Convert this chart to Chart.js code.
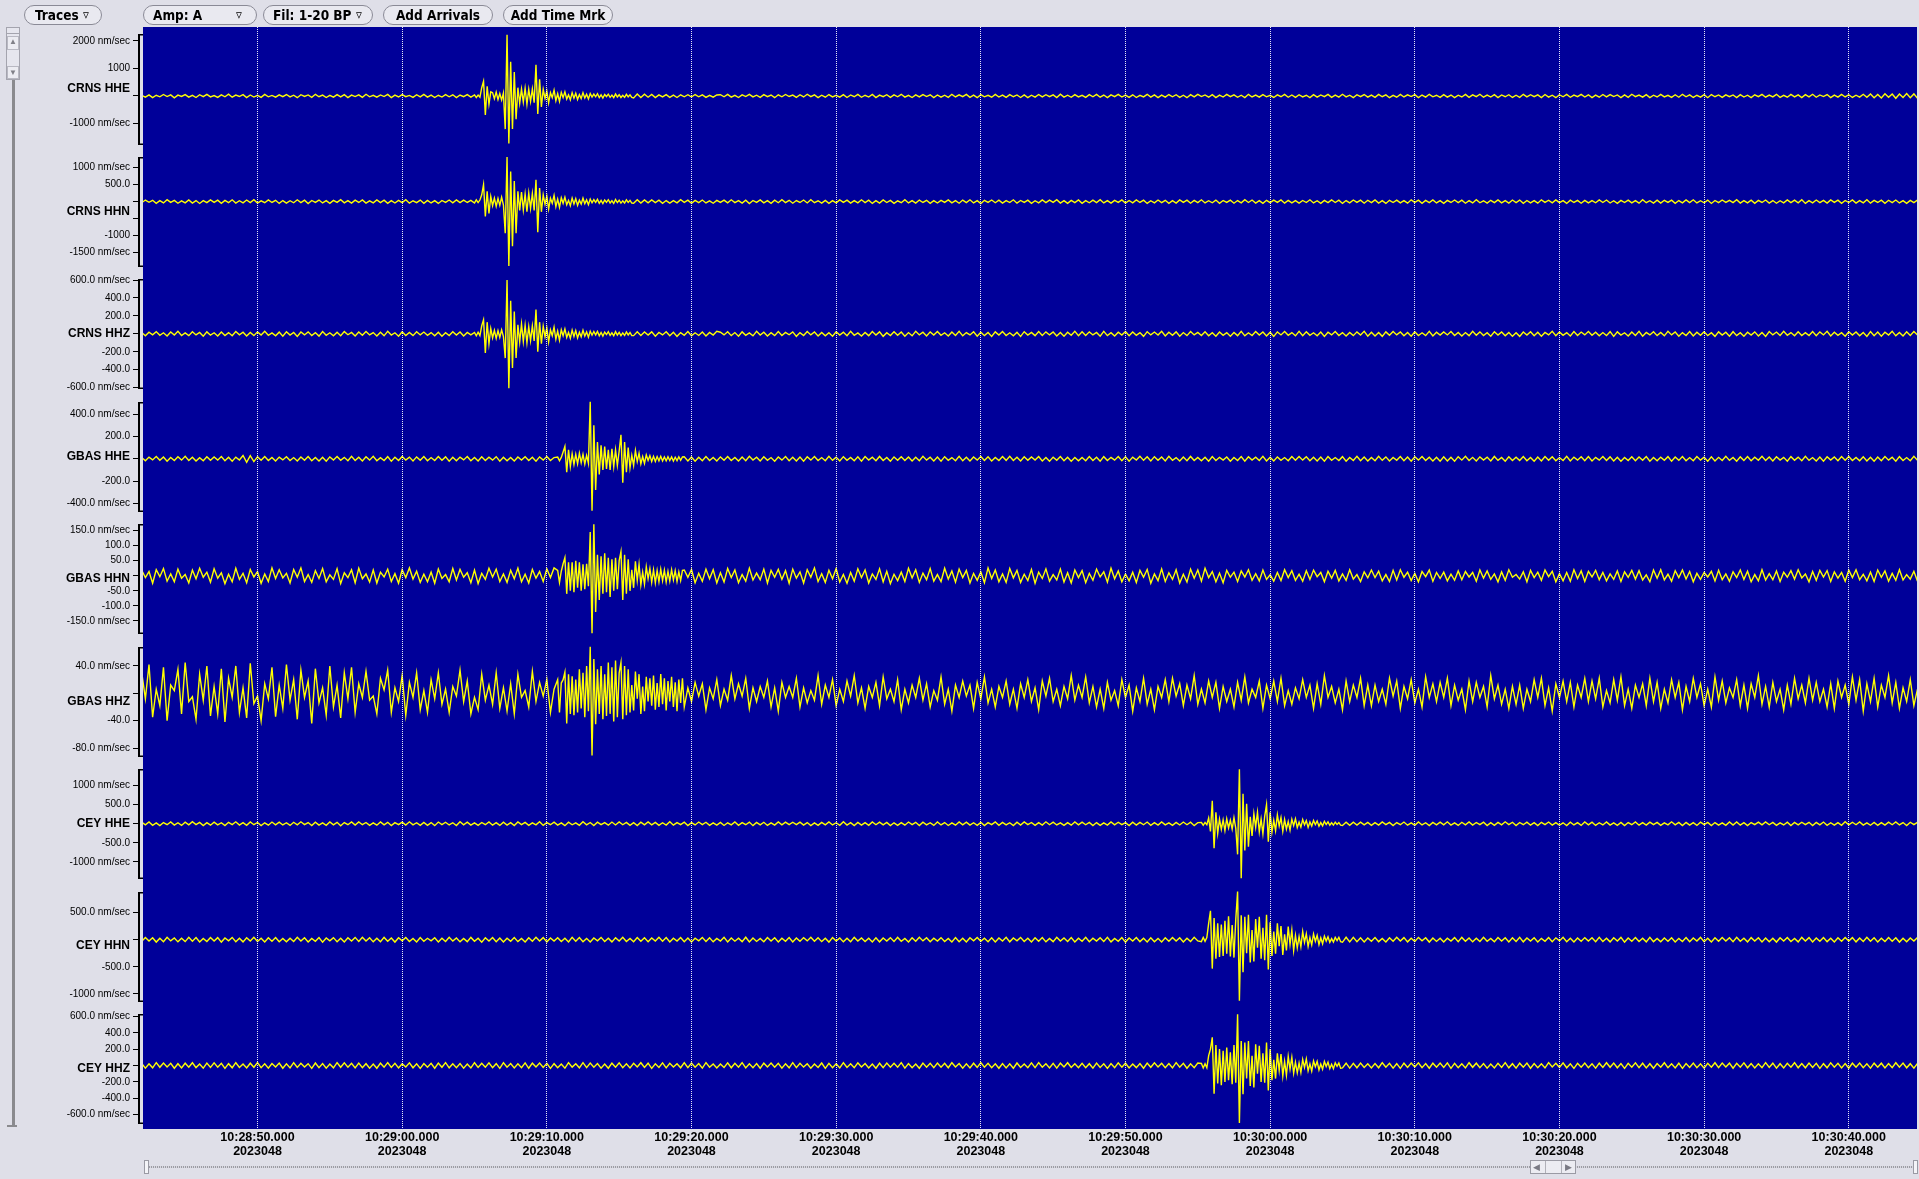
<!DOCTYPE html>
<html>
<head>
<meta charset="utf-8">
<script src="https://cdn.jsdelivr.net/npm/chart.js"></script>
<style>
  html,body{margin:0;padding:0;}
  body{width:1919px;height:1179px;overflow:hidden;position:relative;background:#dfdfe8;}
  #c{position:absolute;left:0;top:0;z-index:0;}
  .btn{position:absolute;top:5px;height:18px;border:1px solid #8a8a96;border-radius:10px;background:#e9e9f0;
       font:bold 13.5px 'DejaVu Sans Condensed','DejaVu Sans',sans-serif;line-height:18px;color:#000;z-index:2;white-space:nowrap;}
  .btn .t{position:absolute;top:0;}
  .btn .a{position:absolute;top:0;font-weight:normal;font-size:13px;}
  .ui{position:absolute;z-index:2;box-sizing:border-box;}
</style>
</head>
<body>
<canvas id="c" width="1919" height="1179"></canvas>

<div class="btn" style="left:24px;width:76px;"><span class="t" style="left:10px;">Traces</span><span class="a" style="left:58px;">&#9663;</span></div>
<div class="btn" style="left:143px;width:112px;"><span class="t" style="left:9px;">Amp: A</span><span class="a" style="left:92px;">&#9663;</span></div>
<div class="btn" style="left:263px;width:108px;"><span class="t" style="left:9px;">Fil: 1-20 BP</span><span class="a" style="left:92px;">&#9663;</span></div>
<div class="btn" style="left:383px;width:108px;text-align:center;">Add Arrivals</div>
<div class="btn" style="left:503px;width:108px;text-align:center;">Add Time Mrk</div>

<!-- left vertical scroll control -->
<div class="ui" style="left:6px;top:27px;width:14px;height:53px;border:1px solid #a4a4ae;background:#e6e6ee;"></div>
<div class="ui" style="left:7px;top:33px;width:12px;height:1px;background:#a4a4ae;"></div>
<div class="ui" style="left:7px;top:36px;width:12px;height:14px;border:1px solid #b8b8c2;background:#ececf2;color:#808088;font-size:8px;line-height:9px;text-align:center;">&#9650;</div>
<div class="ui" style="left:7px;top:66px;width:12px;height:13px;border:1px solid #b8b8c2;background:#ececf2;color:#808088;font-size:8px;line-height:11px;text-align:center;">&#9660;</div>
<div class="ui" style="left:12px;top:80px;width:3px;height:1047px;background:#8a8a8e;"></div>
<div class="ui" style="left:7px;top:1125px;width:10px;height:2px;background:#8a8a8e;"></div>

<!-- bottom horizontal scroll control -->
<div class="ui" style="left:144px;top:1160px;width:5px;height:14px;border:1px solid #9a9aa4;background:#f4f4f8;"></div>
<div class="ui" style="left:149px;top:1166px;width:1764px;height:2px;background:repeating-linear-gradient(90deg,#9c9ca4 0 1px,#d8d8e0 1px 2px);"></div>
<div class="ui" style="left:1530px;top:1160px;width:46px;height:14px;border:1px solid #9a9aa4;background:#ececf2;"></div>
<div class="ui" style="left:1545px;top:1161px;width:1px;height:12px;background:#b0b0b8;"></div>
<div class="ui" style="left:1561px;top:1161px;width:1px;height:12px;background:#b0b0b8;"></div>
<div class="ui" style="left:1533px;top:1160px;width:10px;height:14px;color:#7a7a84;font-size:9px;line-height:14px;">&#9664;</div>
<div class="ui" style="left:1565px;top:1160px;width:10px;height:14px;color:#7a7a84;font-size:9px;line-height:14px;">&#9654;</div>
<div class="ui" style="left:1913px;top:1160px;width:5px;height:14px;border:1px solid #9a9aa4;background:#f4f4f8;"></div>

<script>
// ---------------- DATA ----------------
const traceNames = ['CRNS HHE','CRNS HHN','CRNS HHZ','GBAS HHE','GBAS HHN','GBAS HHZ','CEY HHE','CEY HHN','CEY HHZ'];
const traceStart = 42.0;       // seconds after 10:28:00 (first sample)
const sampleInterval = 0.25;   // seconds per sample (overview samples)

const crnsHHE = [
20,-45,38,-60,25,-30,55,-20,40,-65,30,-15,50,-40,22,-55,45,-25,60,-35,
15,-50,42,-28,65,-45,30,-20,48,-60,35,-38,25,-52,58,-30,20,-44,40,-25,
52,-35,28,-62,45,-18,36,-48,60,-27,33,-55,24,-40,50,-32,46,-58,30,-22,
40,-50,62,-30,25,-45,38,-20,55,-60,32,-36,48,-26,20,-50,44,-34,58,-42,
30,-55,26,-38,50,-28,42,-60,35,-25,48,-40,30,-52,530,-690,400,-200,140,-90,
-1200,2220,-1720,1240,-840,870,-300,260,-280,1130,-650,300,-260,240,-220,200,-190,170,-160,150,
-180,160,-200,150,-140,120,-110,130,-100,90,-120,85,-70,95,-80,60,-75,70,-55,65,
-45,55,-60,40,-35,50,-48,30,-55,42,-28,45,-38,52,-30,40,-50,25,-42,35,
45,-30,58,-40,25,-55,38,-22,60,-35,28,-48,50,-26,35,-62,42,-30,55,-20,
30,-50,44,-36,62,-25,40,-58,28,-45,52,-32,22,-40,48,-55,36,-28,58,-46,
26,-38,55,-60,32,-24,46,-50,38,-30,60,-42,25,-56,40,-34,50,-22,44,-58,
35,-45,28,-52,60,-36,42,-26,55,-48,30,-62,46,-30,24,-44,58,-38,32,-50,
48,-28,36,-55,40,-60,26,-42,52,-34,45,-25,38,-58,62,-40,28,-46,50,-32,
22,-52,46,-30,58,-44,34,-60,40,-26,55,-38,30,-48,42,-56,25,-35,60,-42,
38,-58,30,-40,52,-28,44,-50,26,-62,48,-34,56,-22,36,-45,50,-60,32,-38,
55,-25,42,-48,28,-56,60,-36,34,-44,46,-30,22,-54,40,-28,58,-46,36,-52,
44,-36,26,-60,50,-42,38,-24,56,-48,30,-40,62,-34,28,-58,45,-26,52,-44,
32,-50,58,-28,40,-62,24,-46,54,-36,42,-22,50,-56,34,-40,60,-30,26,-48,
50,-42,34,-58,28,-36,56,-52,40,-24,62,-44,30,-38,48,-60,36,-28,44,-54,
26,-48,60,-34,46,-26,38,-56,52,-40,28,-62,44,-30,56,-46,32,-24,58,-38,
42,-60,30,-44,54,-32,48,-22,36,-58,40,-50,62,-26,34,-42,50,-56,28,-36,
58,-34,24,-52,44,-46,60,-30,38,-54,26,-40,48,-62,52,-28,36,-48,42,-24,
36,-56,50,-38,28,-60,42,-26,56,-44,34,-32,60,-50,24,-46,54,-34,40,-58,
48,-30,62,-46,38,-22,52,-60,30,-42,56,-36,44,-54,28,-40,60,-48,70,-62,
55,-75,80,-50,68,-85,72,-58,90,-66,75,-80
];

const crnsHHN = [
-30,45,-20,38,-52,28,-40,55,-25,35,-48,22,-36,50,-44,30,-55,26,-32,48,
-22,40,-50,34,-28,52,-45,24,-38,46,-30,55,-42,20,-34,48,-26,38,-54,30,
-46,25,-35,52,-28,42,-55,32,-24,45,-40,28,-50,36,-22,54,-38,30,-46,40,
-26,50,-44,22,-36,48,-30,40,-52,26,-42,34,-28,55,-46,24,-32,44,-50,36,
-40,28,-54,32,-24,46,-38,50,-30,42,-26,36,-48,30,500,-440,300,-200,120,-100,
-930,1310,-1889,880,-1310,600,-930,300,-260,640,-900,350,-250,200,-180,170,-150,160,-140,130,
-150,120,-130,110,-100,120,-90,80,-100,75,-65,80,-70,55,-60,60,-50,55,-45,50,
-36,48,-28,40,-52,30,-44,26,-38,55,-24,42,-50,34,-30,46,-40,22,-48,36,
-25,44,-38,52,-30,28,-46,40,-55,32,-22,48,-36,26,-50,42,-34,54,-28,38,
-48,30,-26,46,-40,55,-32,24,-44,36,-52,28,-38,50,-24,42,-46,30,-36,52,
-30,40,-54,26,-42,48,-28,36,-50,22,-34,54,-40,30,-46,44,-26,38,-52,28,
-42,34,-24,50,-36,28,-48,44,-30,52,-40,26,-56,38,-22,46,-34,40,-44,30,
-28,52,-46,32,-26,40,-50,24,-38,48,-30,42,-24,55,-44,28,-52,36,-30,46,
-50,26,-34,44,-28,54,-40,30,-46,36,-22,50,-42,32,-36,48,-26,40,-54,24,
-36,46,-30,38,-52,28,-44,50,-24,42,-48,34,-28,52,-40,26,-34,44,-50,32,
-24,40,-48,30,-36,54,-26,46,-42,28,-52,38,-30,44,-22,50,-46,34,-38,26,
-44,32,-28,52,-40,24,-50,36,-30,48,-26,42,-54,30,-36,46,-24,40,-48,38,
-32,50,-42,26,-54,38,-28,44,-36,30,-46,52,-22,40,-50,34,-30,48,-40,28,
-52,36,-26,46,-30,42,-48,28,-40,54,-34,24,-44,38,-28,50,-36,30,-42,46,
-28,44,-50,32,-38,26,-46,52,-24,40,-36,48,-30,28,-54,42,-26,36,-48,34,
-40,30,-34,50,-26,46,-42,24,-52,36,-28,44,-38,30,-46,54,-32,26,-44,40,
-46,38,-24,42,-50,30,-36,48,-28,52,-40,26,-34,44,-54,32,-30,46,-22,38,
-30,54,-44,28,-36,40,-52,34,-26,46,-42,30,-48,24,-38,50,-28,42,-36,52,
-54,26,-38,46,-30,36,-44,50,-24,40,-50,32,-28,48,-42,30,-36,54,-46,34,
-26,42,-50,38,-32,46,-40,28,-52,36,-30,44
];

const crnsHHZ = [
15,-22,18,-10,25,-16,12,-24,20,-14,28,-18,10,-20,24,-12,16,-26,22,-15,
12,-25,20,-18,14,-22,26,-10,18,-24,15,-20,22,-14,28,-16,10,-22,19,-26,
24,-14,16,-28,20,-12,22,-18,14,-25,26,-16,12,-22,18,-20,25,-10,16,-24,
20,-16,26,-12,14,-24,18,-22,28,-14,12,-26,22,-18,16,-20,24,-12,20,-16,
14,-22,18,-26,12,-18,24,-14,20,-24,16,-12,26,-20,157,-213,120,-80,60,-50,
-270,600,-607,370,-380,250,-270,120,-100,270,-200,110,-90,80,-75,70,-65,60,-55,58,
-60,50,-55,45,-40,50,-35,30,-40,28,-25,30,-28,22,-24,25,-20,22,-18,20,
-14,22,-26,16,-12,24,-20,18,-28,14,-16,26,-22,12,-18,20,-24,16,-14,28,
18,-12,24,-20,14,-26,22,-16,10,-22,28,-14,18,-24,12,-20,26,-18,16,-10,
22,-28,14,-18,26,-12,20,-24,16,-22,12,-26,24,-14,18,-20,28,-16,10,-24,
16,-20,26,-14,22,-28,12,-18,24,-16,20,-26,14,-22,28,-12,18,-24,22,-14,
26,-16,12,-24,20,-18,28,-22,14,-12,24,-26,18,-20,16,-28,22,-14,26,-18,
12,-22,18,-28,24,-14,16,-20,26,-18,22,-12,20,-24,14,-26,18,-16,28,-20,
24,-18,22,-12,16,-26,28,-20,12,-24,18,-14,26,-22,20,-16,14,-28,24,-12,
20,-14,28,-24,18,-16,22,-26,14,-20,26,-12,16,-18,24,-22,12,-26,20,-16,
14,-26,16,-20,28,-22,12,-18,26,-14,20,-24,18,-28,22,-12,26,-16,14,-22,
28,-20,24,-16,12,-22,20,-28,18,-12,26,-18,14,-24,16,-20,22,-14,28,-26,
18,-24,14,-28,22,-16,26,-12,20,-22,16,-26,24,-18,12,-20,28,-24,18,-14,
22,-12,26,-18,16,-24,14,-20,28,-16,22,-18,12,-26,24,-14,20,-22,16,-28,
12,-28,20,-14,24,-22,18,-26,16,-12,28,-20,22,-16,14,-24,26,-18,20,-12,
26,-16,18,-22,14,-20,24,-28,22,-14,12,-24,20,-18,28,-26,16,-12,24,-20,
16,-22,28,-12,20,-26,14,-18,26,-24,18,-16,24,-20,12,-28,22,-14,18,-26,
24,-20,12,-26,18,-14,22,-24,16,-28,26,-12,20,-18,28,-16,14,-22,24,-18,
14,-18,26,-20,22,-12,28,-24,18,-16,12,-26,24,-14,20,-22,16,-28,26,-20,
20,-26,18,-14,28,-22,16,-24,22,-18,26,-12
];

const gbasHHE = [
12,-18,15,-10,20,-14,16,-22,11,-15,18,-12,22,-16,14,-20,10,-17,19,-13,
16,-12,20,-18,13,-21,15,-11,30,-32,28,-25,18,-14,20,-16,12,-19,15,-10,
18,-15,11,-20,16,-13,21,-17,12,-19,14,-22,17,-11,20,-14,13,-18,22,-16,
14,-20,18,-12,22,-17,10,-15,19,-21,13,-16,20,-11,15,-19,17,-13,21,-18,
11,-16,20,-14,17,-22,13,-18,15,-10,21,-17,12,-20,18,-15,14,-12,19,-21,
14,-18,12,-20,16,-11,19,-15,13,-22,17,-12,20,-16,11,-18,15,110,-120,80,
-60,45,-50,40,510,-466,300,-280,150,-140,100,-90,215,-215,150,-120,80,-70,60,-50,
45,-40,35,-38,30,-28,25,-22,20,-24,18,-20,16,-22,14,-18,20,-15,12,-19,
17,-13,21,-16,12,-20,15,-18,22,-11,14,-19,18,-14,11,-21,16,-12,20,-17,
13,-19,16,-21,18,-12,20,-15,11,-17,22,-14,15,-20,19,-13,12,-18,17,-22,
20,-11,14,-18,21,-16,12,-22,17,-13,19,-15,16,-20,13,-17,22,-12,14,-19,
15,-21,19,-13,11,-17,22,-18,14,-20,16,-12,21,-15,18,-19,12,-16,20,-14,
22,-16,13,-20,18,-14,17,-11,21,-19,12,-22,15,-13,20,-17,14,-21,11,-18,
12,-17,21,-15,14,-22,19,-16,13,-12,20,-18,17,-21,15,-11,22,-14,18,-20,
19,-14,16,-19,22,-13,11,-20,15,-18,21,-16,12,-17,14,-22,20,-15,13,-11,
16,-22,12,-15,20,-21,18,-12,14,-16,22,-19,13,-20,17,-14,11,-18,21,-13,
21,-12,18,-17,13,-19,15,-22,20,-14,11,-16,19,-21,12,-15,22,-18,16,-20,
11,-18,22,-14,17,-20,12,-13,21,-17,15,-22,18,-12,20,-16,14,-19,13,-21,
18,-20,14,-21,19,-12,22,-16,13,-19,17,-11,15,-20,21,-14,12,-22,18,-15,
14,-15,20,-18,12,-22,16,-19,21,-13,18,-17,11,-16,22,-20,15,-12,19,-18,
20,-19,13,-12,21,-16,17,-20,14,-22,12,-15,19,-18,16,-13,20,-21,11,-17,
15,-13,19,-22,16,-14,21,-17,11,-18,20,-12,14,-21,17,-19,13,-16,22,-14,
12,-21,17,-16,20,-18,14,-13,22,-15,16,-20,18,-11,13,-22,19,-14,15,-17,
22,-14,11,-19,15,-21,18,-12,16,-17,21,-13,20,-16,12,-18,17,-20,14,-22,
16,-18,20,-12,14,-21,19,-15,11,-17,22,-13
];

const gbasHHN = [
18,-6,14,-25,20,-3,24,-18,6,-20,22,-8,4,-24,19,-10,25,-5,12,-21,
23,-8,10,-26,5,-20,25,-12,8,-23,21,-4,14,-25,6,-19,26,-9,20,-7,
8,-24,21,-5,26,-19,4,-22,17,-9,24,-20,3,-12,23,-26,10,-6,20,-23,
25,-10,6,-21,19,-24,12,-4,22,-19,7,-25,20,-6,26,-11,15,-22,5,-20,
12,-25,22,-9,4,-20,24,-14,21,-5,10,-23,19,-26,8,-12,25,-4,22,-19,
6,-22,18,-10,25,-20,5,-24,21,-8,14,-19,23,-6,26,-18,20,60,-60,45,
-50,45,-55,50,171,-191,120,-110,70,-80,60,-50,80,-80,70,-60,45,-40,35,-30,
28,-12,22,-26,6,-18,24,-20,9,-22,19,-5,21,-23,8,-18,22,-10,20,-24,
10,-21,24,-6,19,-23,4,-18,25,-14,9,-13,22,-24,18,-5,21,-12,17,-25,
22,-8,13,-24,20,-5,26,-19,7,-22,18,-10,24,-21,4,-25,11,-18,23,-6,
19,-24,6,-12,23,-20,15,-26,5,-16,12,-19,25,-7,20,-22,9,-13,24,-18,
4,-19,25,-11,16,-21,22,-6,18,-24,8,-15,13,-23,26,-9,19,-20,6,-22,
24,-7,18,-22,5,-16,21,-25,12,-9,23,-18,4,-14,22,-21,10,-24,19,-6,
17,-23,8,-15,22,-4,13,-21,25,-10,16,-20,6,-17,12,-22,18,-5,21,-25,
6,-16,23,-19,10,-12,20,-24,5,-21,22,-8,19,-18,25,-6,14,-20,9,-23,
18,-5,12,-19,16,-4,20,-15,7,-17,19,-12,3,-18,11,-16,20,-6,17,-15,
5,-18,17,-12,19,-3,11,-20,15,-8,18,-17,6,-15,20,-11,4,-19,13,-7,
19,-6,15,-17,4,-19,18,-14,20,-5,12,-16,8,-20,14,-3,19,-18,11,-9,
12,-17,5,-15,16,-13,14,-4,11,-18,19,-8,16,-12,6,-20,13,-15,20,-5,
4,-11,13,-20,18,-6,12,-15,19,-3,15,-20,7,-17,11,-18,20,-9,16,-19,
15,-4,18,-13,11,-17,6,-12,16,-19,13,-5,18,-11,17,-14,3,-20,19,-8,
20,-14,5,-18,17,-6,19,-11,14,-20,8,-12,11,-4,15,-17,18,-13,6,-18,
13,-6,19,-12,15,-20,4,-17,20,-14,7,-13,16,-19,12,-5,17,-11,20,-7,
6,-20,14,-15,18,-4,17,-19,13,-8,11,-18,19,-6,20,-13,5,-17,12,-19,
19,-5,16,-18,8,-15,20,-14,4,-11,15,-18
];

const gbasHHZ = [
30,-8,42,-35,6,-18,38,-40,12,4,35,-30,45,-12,-5,-38,28,-10,40,-33,
10,-30,36,-42,22,-6,40,-28,8,-36,44,-15,-4,-40,14,-8,38,-34,12,-22,
42,-10,20,-38,34,-6,18,-44,36,-14,8,-32,40,-20,12,-36,30,-8,38,-28,
14,-6,32,-10,-4,-30,22,5,34,-28,8,-12,26,-32,16,-6,30,-24,4,-28,
20,-8,30,-16,6,-28,10,-4,34,-12,18,-30,-6,-24,28,-10,12,-16,30,-22,
8,-26,14,-30,28,-6,4,-20,32,-12,16,-4,20,-28,6,-14,25,31,-44,30,
-35,28,-30,40,68,-91,50,-45,35,-30,48,-41,45,-38,30,-28,32,-25,28,-24,
-10,18,-6,24,-20,4,-14,10,-6,26,-20,8,-12,16,-4,14,-24,8,-8,20,
-18,6,-10,26,-8,14,-4,22,-22,8,-12,10,-6,18,-20,8,-26,16,-6,10,
-6,22,-20,8,-14,4,-10,26,-16,12,-6,20,-18,6,-12,18,-4,26,-14,8,
-22,10,-6,16,-18,24,-8,6,-12,20,-24,6,-14,12,-6,22,-10,14,-20,4,
-10,24,-16,6,-26,12,-6,18,-4,12,-22,16,-8,24,-14,6,-20,10,-6,18,
-16,6,-22,14,-6,20,-12,8,-24,18,-4,22,-12,6,-18,10,-8,26,-10,12,
-6,24,-14,10,-20,6,-22,16,-10,4,-18,20,-6,12,-26,8,-12,22,-16,6,
-24,10,-6,20,-12,22,-4,14,-18,12,-8,26,-16,6,-14,18,-6,16,-22,10,
-12,6,-20,16,-10,24,-14,6,-6,18,-22,12,-8,18,-12,22,-18,4,-16,8,
-8,20,-6,12,-22,14,-16,26,-6,10,-14,6,-24,18,-12,12,-6,22,-18,12,
-18,12,-12,6,-16,22,-4,18,-22,10,-8,20,-14,6,-20,24,-6,14,-12,16,
-6,22,-18,12,-10,6,-24,18,-12,16,-6,10,-20,26,-8,12,-16,6,-22,10,
-16,12,-22,6,-12,20,-6,22,-18,8,-26,14,-6,18,-12,16,-20,12,-6,22,
-12,18,-8,22,-20,4,-14,20,-10,24,-18,6,-22,12,-6,14,-18,22,-12,16,
-22,6,-14,20,-6,16,-24,10,-12,22,-6,14,-18,6,-20,24,-10,18,-14,8,
-6,20,-18,12,-22,14,-6,26,-16,10,-20,16,-12,6,-24,12,-16,22,-8,12,
-14,22,-10,16,-12,6,-20,14,-22,18,-6,12,-16,24,-10,20,-26,14,-12,22,
-20,12,-6,26,-14,16,-22,8,-12,20,-18,6
];

const ceyHHE = [
35,-28,45,-40,22,-50,30,-25,48,-36,26,-44,40,-30,52,-22,34,-46,28,-38,
42,-30,25,-48,36,-22,50,-34,28,-42,46,-26,32,-50,24,-38,44,-28,40,-32,
26,-44,38,-30,50,-24,30,-46,42,-34,22,-40,48,-28,36,-52,30,-26,46,-36,
48,-26,32,-42,24,-38,46,-30,36,-50,28,-24,42,-34,50,-28,26,-44,34,-40,
30,-50,44,-24,38,-32,26,-46,50,-28,40,-36,24,-42,32,-26,48,-38,28,-44,
40,-34,28,-48,46,-22,36,-40,24,-30,52,-44,30,-26,42,-36,22,-50,38,-28,
24,-42,50,-30,32,-46,40,-24,28,-38,44,-32,48,-26,34,-40,26,-48,42,-30,
46,-28,36,-44,26,-34,50,-38,30,-24,40,-46,28,-32,44,-22,38,-42,24,-36,
32,-46,24,-30,48,-40,28,-26,42,-50,34,-28,38,-44,22,-36,46,-30,40,-24,
38,-24,42,-36,30,-48,22,-44,36,-28,46,-32,26,-40,50,-34,28,-46,32,-38,
28,-40,46,-26,40,-30,34,-50,24,-42,30,-38,44,-24,36,-48,42,-28,26,-44,
44,-32,30,-46,22,-38,48,-28,40,-34,26,-42,36,-50,28,-24,46,-40,34,-30,
26,-48,38,-34,46,-24,32,-42,28,-36,50,-26,42,-32,24,-44,30,-38,48,-28,
40,-26,34,-50,30,-44,24,-36,46,-30,38,-22,28,-48,42,-34,36,-26,44,-40,
30,-36,48,-28,24,-42,36,-32,44,-26,40,-50,28,-38,46,200,600,-640,200,-150,
120,-180,200,-800,1425,-1423,780,-700,300,-260,230,500,-470,200,-220,180,-170,150,-140,130,
-110,100,-90,85,-80,70,-75,60,-65,55,-50,45,-48,40,-42,38,-35,40,-30,36,
-42,28,-36,46,-24,34,-50,30,-26,44,-38,22,-40,48,-32,26,-46,36,-28,42,
-30,50,-34,24,-44,38,-28,46,-36,32,-22,40,-48,26,-42,34,-30,50,-24,38,
-46,32,-26,42,-38,28,-50,36,-24,44,-34,30,-40,24,-46,38,-32,28,-44,48,
-28,40,-44,26,-32,48,-36,22,-42,34,-50,30,-26,46,-38,28,-34,42,-24,36,
-40,24,-30,50,-28,36,-46,32,-38,26,-44,42,-22,34,-48,30,-36,24,-42,46,
-34,46,-38,28,-50,30,-24,40,-30,48,-26,36,-44,22,-32,42,-46,34,-28,38,
-24,36,-48,34,-30,44,-40,26,-36,30,-42,50,-28,38,-26,46,-34,24,-40,32,
-44,28,-36,42,-26,48,-32,30,-46,38,-24,40
];

const ceyHHN = [
-30,42,-25,36,-44,28,-38,45,-22,32,-40,26,-35,44,-28,38,-42,24,-34,40,
-26,38,-44,30,-22,42,-36,28,-40,34,-24,45,-32,26,-42,36,-28,40,-38,22,
-40,28,-34,44,-26,36,-42,24,-30,40,-45,32,-22,38,-36,28,-44,34,-26,42,
-32,45,-24,34,-40,26,-38,42,-28,30,-44,36,-22,40,-34,24,-42,38,-30,26,
-22,36,-42,28,-34,44,-26,32,-40,24,-36,42,-30,26,-45,34,-24,40,-38,30,
-44,26,-30,40,-36,22,-42,34,-28,45,-24,38,-40,30,-26,36,-34,28,-42,44,
-28,40,-38,24,-44,32,-22,42,-34,28,-40,36,-26,44,-32,22,-38,40,-30,34,
-36,30,-26,44,-30,38,-42,26,-24,40,-36,32,-44,28,-22,42,-34,36,-40,24,
-24,44,-40,32,-28,26,-36,45,-42,30,-32,22,-38,40,-26,34,-44,28,-30,38,
-42,32,-28,38,-22,44,-30,34,-36,26,-44,40,-24,32,-40,28,-36,42,-26,30,
-34,26,-44,36,-40,30,-24,38,-32,42,-28,24,-42,36,-30,44,-22,34,-38,28,
-26,38,-32,24,-42,40,-36,28,-44,34,-22,42,-30,26,-38,36,-40,32,-24,44,
-40,30,-22,42,-34,26,-44,36,-28,38,-40,24,-36,44,-26,30,-32,40,-42,28,
-30,44,-38,28,-26,36,-32,42,-40,24,-30,38,-44,32,-24,40,-36,26,-42,34,
-38,24,-44,34,-30,40,-26,36,-42,28,-34,44,-22,38,-28,-250,533,-533,350,-300,
280,-350,300,886,-1123,450,-600,420,-380,350,-300,460,-550,320,-280,250,-230,200,-180,150,
-130,120,-110,100,-90,80,-85,70,-65,60,-55,50,-48,45,-40,42,-38,35,-40,32,
-28,40,-36,24,-42,34,-30,44,-26,38,-40,28,-34,42,-22,36,-44,30,-32,26,
-44,28,-24,38,-36,42,-28,32,-40,26,-34,44,-30,24,-38,40,-26,36,-42,34,
-32,42,-40,30,-26,36,-44,24,-30,40,-36,34,-22,44,-38,28,-42,32,-28,38,
-26,34,-38,44,-32,28,-40,36,-24,42,-44,30,-28,38,-34,26,-40,44,-36,24,
-40,30,-28,36,-44,24,-34,40,-38,32,-26,42,-36,28,-42,34,-30,40,-24,36,
-36,44,-30,26,-40,38,-24,34,-42,30,-38,28,-44,36,-26,40,-32,24,-40,42,
-24,38,-42,32,-28,40,-36,26,-44,34,-30,42,-26,38,-40,30,-34,44,-28,36,
-42,26,-34,40,-30,36,-44,28,-38,32,-26,42
];

const ceyHHZ = [
25,-32,20,-28,35,-22,30,-18,26,-34,22,-30,28,-20,34,-26,18,-32,30,-24,
32,-20,26,-35,22,-28,34,-24,18,-30,28,-22,35,-26,20,-32,24,-18,30,-34,
20,-30,34,-24,28,-18,22,-35,30,-26,24,-32,18,-28,35,-22,32,-20,26,-30,
30,-26,22,-32,18,-34,28,-20,35,-24,26,-30,22,-18,32,-28,20,-35,24,-22,
26,-34,30,-22,35,-28,20,-26,24,-32,18,-30,34,-24,28,-20,32,-26,22,-35,
34,-22,24,-30,20,-26,32,-34,28,-18,30,-24,26,-35,22,-28,18,-32,35,-20,
22,-28,35,-26,30,-20,24,-32,18,-34,28,-22,32,-26,20,-30,26,-18,34,-24,
28,-35,20,-24,32,-30,26,-18,22,-28,34,-26,30,-20,24,-32,35,-22,18,-30,
18,-24,32,-28,26,-22,35,-30,20,-26,24,-34,28,-18,30,-22,26,-32,20,-28,
35,-26,28,-20,22,-32,18,-24,30,-35,26,-28,20,-30,34,-24,22,-26,32,-18,
24,-30,18,-34,28,-26,30,-22,26,-20,35,-32,24,-28,18,-34,30,-20,28,-26,
30,-22,26,-28,34,-18,24,-32,20,-30,28,-24,35,-22,26,-26,20,-34,24,-30,
20,-34,30,-24,18,-28,32,-26,35,-22,20,-30,26,-32,28,-18,34,-24,22,-28,
26,-28,22,-32,30,-24,20,-35,24,-26,32,-20,28,-30,18,-26,24,-34,30,-22,
32,-18,28,-26,24,-30,35,-22,26,-34,20,-28,30,-24,22,120,345,-345,200,-180,
150,-200,250,625,-704,300,-350,280,-260,230,-220,280,-305,180,-160,140,-130,110,-100,90,
-85,75,-70,60,-55,50,-48,45,-40,38,-35,32,-30,28,-32,26,-28,30,-25,22,
-30,24,-28,34,-20,26,-32,22,-35,28,-24,30,-18,32,-26,24,-34,28,-22,30,
-24,32,-35,26,-28,20,-30,34,-22,28,-26,24,-32,18,-30,26,-24,35,-28,22,
-32,28,-20,30,-34,24,-26,22,-30,35,-18,28,-24,32,-28,20,-35,26,-22,30,
-26,20,-32,28,-24,34,-22,30,-28,24,-35,26,-20,32,-26,28,-30,22,-34,24,
-20,34,-26,22,-30,28,-35,24,-24,30,-28,20,-32,26,-22,34,-26,30,-18,28,
-34,26,-22,32,-28,24,-30,20,-26,35,-24,28,-32,22,-30,26,-20,34,-28,24,
-28,30,-24,26,-35,22,-28,32,-20,26,-30,24,-34,28,-22,30,-26,20,-32,28,
-22,28,-30,24,-26,34,-20,30,-28,22,-32,26
];

// finer samples read around each arrival (0.125 s apart)
const burstInterval = 0.125;
const crnsBurstStart = 65.0, gbasBurstStart = 70.75, ceyBurstStart = 115.25;

const crnsHHEburst = [
40,-55,30,-45, 300,530,-690,350,-300,150,
120,-100,140,-130,90,-150,110,
-1200,2220,-1720,1240,-1200,870,-840,
300,-260,250,-220,280,-300,240,-200,260,-240,
1130,-650,600,-400,
240,-90,180,-250,120,-60,210,-170,80,-200,
130,-60,150,-110,40,-140,120,-80,100,-130,50,-90,120,-70,60,-110,90,-40,
70,-30,80,-60,40,-75,55,-20,65,-50,30,-60,70,-35,45,-55,25,-50,60,-30,40,-55
];
const crnsHHNburst = [
-40,50,-30,45, 200,500,-440,300,-350,150,
-120,100,-140,90,-110,130,-100,
-930,1310,-1889,880,-1310,600,-930,
300,-260,280,-240,220,-300,250,-200,240,-260,
640,-900,400,-300,
200,-80,160,-220,100,-50,180,-150,70,-170,
110,-50,130,-95,35,-120,100,-70,85,-110,40,-75,100,-60,50,-90,75,-35,
60,-25,65,-50,35,-60,45,-20,55,-40,25,-50,60,-30,40,-45,20,-42,50,-25,35,-45
];
const crnsHHZburst = [
15,-22,18,-20, 90,157,-213,130,-110,60,
-45,40,-50,35,-40,45,-30,
-270,600,-607,370,-380,250,-270,
100,-90,110,-85,95,-100,80,-75,90,-80,
270,-200,130,-110,
85,-35,65,-90,45,-20,75,-60,30,-70,
45,-20,55,-40,15,-50,42,-30,36,-46,18,-32,40,-25,22,-38,30,-15,
26,-12,28,-22,15,-26,20,-8,24,-18,12,-22,25,-14,16,-20,10,-18,22,-12,15,-20
];
const gbasHHEburst = [
15,-18,12, 60,110,-120,80,-70,
45,-50,40,-45,50,-35,40,-48,30,-40,
510,-466,300,-280,
150,-140,120,-100,110,-90,80,-100,90,-70,80,-60,70,
215,-215,150,-120,100,
-80,30,-60,75,-25,50,-45,20,-42,35,-15,
28,-25,22,-24,20,-18,22,-20,16,-19,18,-15,17,-20,14,-16,18,-14,16
];
const gbasHHNburst = [
18,-22,15, 40,60,-60,45,-50,
45,-55,50,-40,45,-50,38,-45,40,-35,
145,-191,171,-120,
70,-80,65,-60,75,-55,60,-70,55,-50,60,-45,50,
80,-80,70,-60,55,
-50,20,-40,48,-15,38,-30,12,-28,30,-10,
24,-22,20,-24,18,-20,22,-16,19,-21,15,-18,20,-14,17,-19,13,-16,18
];
const gbasHHZburst = [
20,-28,15, 20,31,-44,28,-30,
25,-32,20,-28,35,-22,30,-35,40,-26,
68,-91,50,-45,
35,-30,40,-38,28,-33,45,-30,38,-41,48,-35,30,
45,-38,40,-32,35,
-28,12,-25,32,-8,28,-30,10,-26,24,-12,
22,-18,26,-24,15,-20,28,-16,22,-25,18,-12,24,-20,16,-26,20,-14,22
];
const ceyHHEburst = [
30,-40,35,-28, 150,-200,600,-640,300,-250,
120,-150,100,-180,130,-110,90,-140,160,-120,
-800,1425,-1423,780,
-700,520,-600,180,-320,260,-90,300,-210,120,-260,200,
500,-470,300,
-220,90,-180,230,-60,160,-200,110,-140,60,-170,120,-50,130,
-100,40,-90,110,-30,80,-95,45,-60,85,-25,70,-65,30,-55,60,-20,50,
-40,25,-35,42,-18,30,-36
];
const ceyHHNburst = [
-35,40,-30,38, 300,533,-533,400,-350,300,
-320,280,-300,350,-260,430,-310,270,-330,380,
886,-1123,450,-600,
420,-250,460,-420,180,-400,380,-150,420,-350,220,-380,
460,-550,320,
-300,150,-260,300,-120,250,-280,100,-200,240,-90,180,-200,80,
-150,60,-130,150,-50,110,-125,40,-95,105,-30,80,-90,35,-75,65,-25,55,
-50,20,-45,42,-15,44,-38
];
const ceyHHZburst = [
25,-30,22,-28, 120,200,345,-345,250,-220,
200,-240,180,-200,220,-180,160,-230,250,-210,
625,-704,300,-350,
280,-160,300,-250,120,-270,260,-100,240,-200,150,-210,
280,-305,200,
-180,70,-160,150,-60,140,-130,50,-120,110,-45,100,-95,40,
-90,30,-85,75,-25,80,-65,20,-70,55,-15,50,-55,18,-45,50,-12,42,
-38,15,-40,32,-10,30,-34
];

// trace extent (the bracket drawn beside each trace), nm/sec
const bracketHi = [2227, 1310, 607, 510, 171, 68.1, 1426, 886, 629];
const bracketLo = [-1722, -1889, -608, -466, -191, -91.2, -1423, -1123, -704];

// amplitude ticks and their labels
const ampTicks = [
  [2000, 1000, 0, -1000],
  [1000, 500, 0, -500, -1000, -1500],
  [600, 400, 200, 0, -200, -400, -600],
  [400, 200, 0, -200, -400],
  [150, 100, 50, 0, -50, -100, -150],
  [40, 0, -40, -80],
  [1000, 500, 0, -500, -1000],
  [500, 0, -500, -1000],
  [600, 400, 200, 0, -200, -400, -600]
];
const ampLabels = [
  ['2000 nm/sec', '1000', '', '-1000 nm/sec'],
  ['1000 nm/sec', '500.0', '', '', '-1000', '-1500 nm/sec'],
  ['600.0 nm/sec', '400.0', '200.0', '', '-200.0', '-400.0', '-600.0 nm/sec'],
  ['400.0 nm/sec', '200.0', '', '-200.0', '-400.0 nm/sec'],
  ['150.0 nm/sec', '100.0', '50.0', '', '-50.0', '-100.0', '-150.0 nm/sec'],
  ['40.0 nm/sec', '', '-40.0', '-80.0 nm/sec'],
  ['1000 nm/sec', '500.0', '', '-500.0', '-1000 nm/sec'],
  ['500.0 nm/sec', '', '-500.0', '-1000 nm/sec'],
  ['600.0 nm/sec', '400.0', '200.0', '', '-200.0', '-400.0', '-600.0 nm/sec']
];

// time axis (seconds after 10:28:00)
const timeTicks = [50, 60, 70, 80, 90, 100, 110, 120, 130, 140, 150, 160];
const timeLabels = ['10:28:50.000','10:29:00.000','10:29:10.000','10:29:20.000','10:29:30.000','10:29:40.000',
                    '10:29:50.000','10:30:00.000','10:30:10.000','10:30:20.000','10:30:30.000','10:30:40.000'];
const dayLabel = '2023048';
const timeMin = 42.085, timeMax = 164.715;

// ---------------- CHART ----------------
const traces = [crnsHHE, crnsHHN, crnsHHZ, gbasHHE, gbasHHN, gbasHHZ, ceyHHE, ceyHHN, ceyHHZ];
const bursts = [crnsHHEburst, crnsHHNburst, crnsHHZburst, gbasHHEburst, gbasHHNburst, gbasHHZburst, ceyHHEburst, ceyHHNburst, ceyHHZburst];
const burstStarts = [crnsBurstStart, crnsBurstStart, crnsBurstStart, gbasBurstStart, gbasBurstStart, gbasBurstStart, ceyBurstStart, ceyBurstStart, ceyBurstStart];

const PLOT_BG = '#000099';
const TRACE = '#ffff00';
const LBL_FONT = "'Liberation Sans', Arial, sans-serif";
const TIME_FONT = "'Liberation Sans', Arial, sans-serif";

function buildPoints(k) {
  const b = bursts[k], b0 = burstStarts[k];
  const b1 = b0 + (b.length - 1) * burstInterval;
  const fine = b.map((v, j) => ({ x: b0 + j * burstInterval, y: v }));
  const coarse = traces[k]
    .map((v, i) => ({ x: traceStart + i * sampleInterval, y: v }))
    .filter(p => p.x < b0 - 1e-9 || p.x > b1 + 1e-9);
  return coarse.concat(fine).sort((a, c) => a.x - c.x);
}

const datasets = traces.map((vals, k) => ({
  label: traceNames[k],
  data: buildPoints(k),
  xAxisID: 'x',
  yAxisID: 'y' + k,
  borderColor: TRACE,
  borderWidth: 1.4,
  pointRadius: 0,
  tension: 0,
  fill: false
}));

const scales = {
  x: {
    type: 'linear', position: 'bottom', min: timeMin, max: timeMax,
    afterBuildTicks: s => { s.ticks = timeTicks.map(v => ({ value: v })); },
    afterFit: s => { s.height = 50; },
    ticks: {
      autoSkip: false, maxRotation: 0, minRotation: 0, padding: 1, color: '#000',
      font: { family: TIME_FONT, size: 12.5, weight: 'bold', lineHeight: 1.16 },
      callback: v => { const i = timeTicks.indexOf(v); return [i >= 0 ? timeLabels[i] : '', dayLabel]; }
    },
    grid: { drawOnChartArea: true, drawTicks: false, color: 'rgba(255,255,255,0.9)', lineWidth: 1, z: 1 },
    border: { display: false, dash: [1, 1] }
  }
};

traces.forEach((vals, k) => {
  const hi = bracketHi[k], lo = bracketLo[k], range = hi - lo;
  const center = (hi + lo) / 2;
  const tickList = ampTicks[k].concat([center]).sort((a, b) => a - b);
  scales['y' + k] = {
    type: 'linear', position: 'left', stack: 'traces', stackWeight: 1, weight: traces.length - k,
    min: lo - range * 0.0545, max: hi + range * 0.0688,
    afterBuildTicks: s => { s.ticks = tickList.map(v => ({ value: v })); },
    afterFit: s => { s.width = 143; },
    ticks: {
      autoSkip: false, padding: 3, color: '#000',
      font: ctx => (ctx.tick && ctx.tick.value === center)
        ? { family: LBL_FONT, size: 12, weight: 'bold' }
        : { family: LBL_FONT, size: 10, weight: 'normal' },
      callback: v => {
        if (v === center) return traceNames[k];
        const j = ampTicks[k].indexOf(v);
        return j >= 0 ? ampLabels[k][j] : '';
      }
    },
    grid: {
      drawOnChartArea: false, drawTicks: true, tickLength: 10, tickWidth: 1,
      tickColor: ctx => (ctx.tick && ctx.tick.value === center) ? 'rgba(0,0,0,0)' : '#000'
    },
    border: { display: false }
  };
});

const plotBackground = {
  id: 'plotBackground',
  beforeDraw(chart) {
    const { ctx, chartArea: a } = chart;
    ctx.save();
    ctx.fillStyle = PLOT_BG;
    ctx.fillRect(a.left, a.top, a.right - a.left, a.bottom - a.top);
    ctx.restore();
  }
};

const traceBrackets = {
  id: 'traceBrackets',
  afterDraw(chart) {
    const { ctx, chartArea: a } = chart;
    ctx.save();
    ctx.clearRect(a.left - 3, a.top, 3, a.bottom - a.top);
    ctx.strokeStyle = '#000';
    traces.forEach((vals, k) => {
      const s = chart.scales['y' + k];
      const yt = Math.round(s.getPixelForValue(bracketHi[k]));
      const yb = Math.round(s.getPixelForValue(bracketLo[k]));
      const xv = a.left - 4;
      ctx.lineWidth = 2;
      ctx.beginPath(); ctx.moveTo(xv, yt); ctx.lineTo(xv, yb + 1); ctx.stroke();
      ctx.lineWidth = 1.5;
      ctx.beginPath();
      ctx.moveTo(xv - 1, yt + 0.75); ctx.lineTo(a.left, yt + 0.75);
      ctx.moveTo(xv - 1, yb + 0.25); ctx.lineTo(a.left, yb + 0.25);
      ctx.stroke();
    });
    ctx.restore();
  }
};

new Chart(document.getElementById('c'), {
  type: 'line',
  data: { datasets },
  options: {
    responsive: false,
    animation: false,
    devicePixelRatio: 1,
    parsing: false,
    normalized: true,
    events: [],
    layout: { padding: { left: 0, right: 2, top: 27, bottom: 0 } },
    plugins: { legend: { display: false }, tooltip: { enabled: false }, title: { display: false } },
    scales
  },
  plugins: [plotBackground, traceBrackets]
});
</script>
</body>
</html>
